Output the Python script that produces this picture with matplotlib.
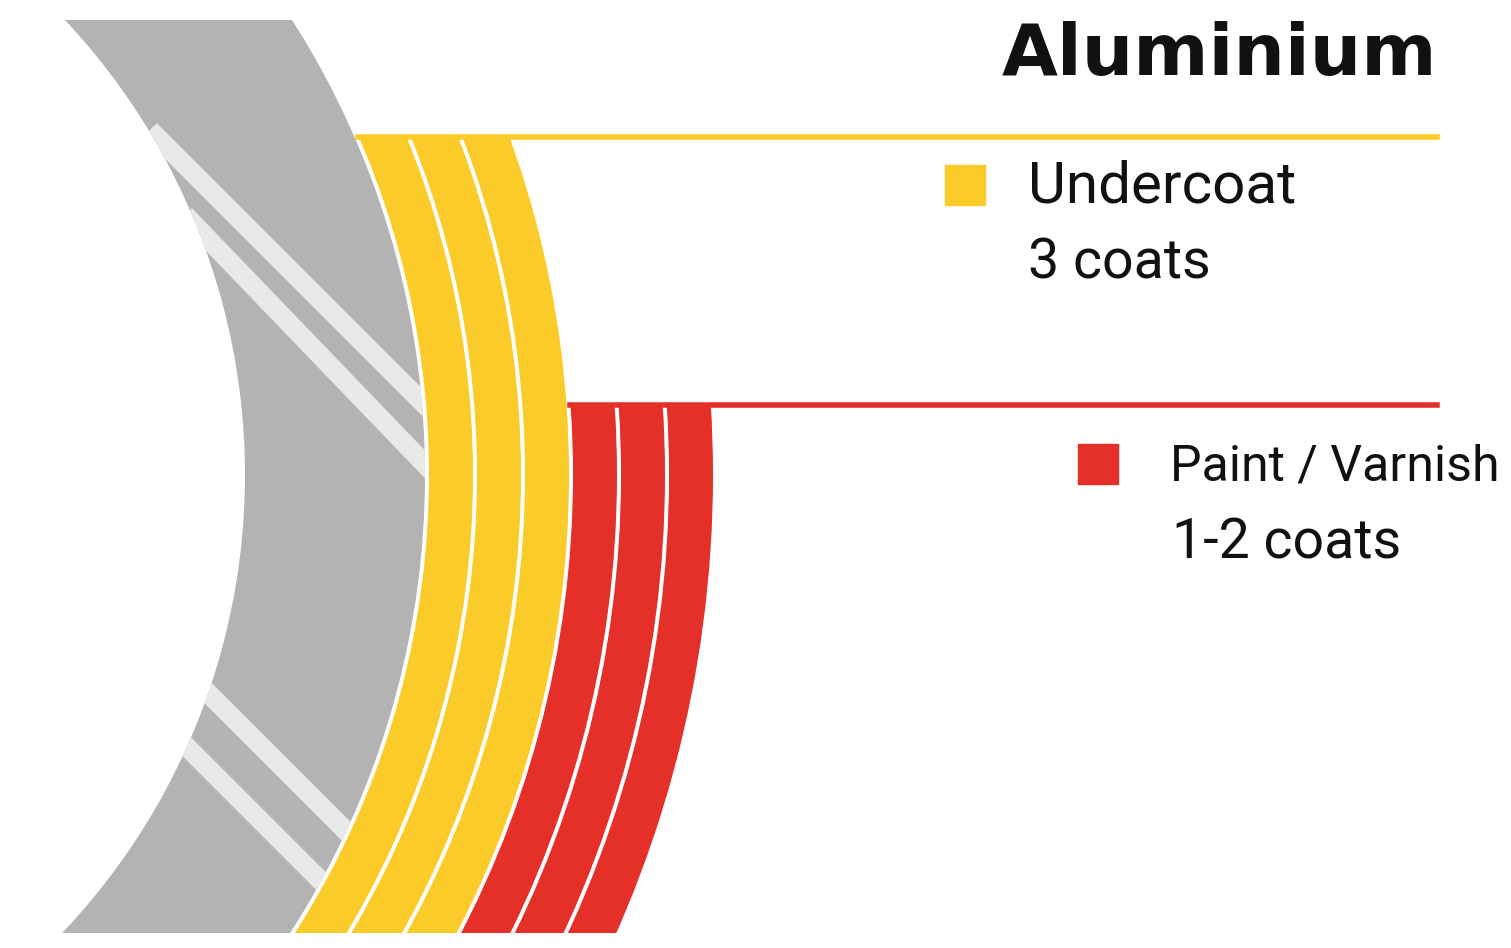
import matplotlib
matplotlib.use("Agg")
import matplotlib.pyplot as plt
import matplotlib.patches as mpatches

# Data
title = "Aluminium"
layer_names = ["Undercoat", "Paint / Varnish"]
layer_coats_text = ["3 coats", "1-2 coats"]
layer_rings = [3, 3]                  # rings drawn per layer
layer_colors = ["#fbcb2a", "#e5302a"]
layer_top = [137, 405]                # y where each layer starts
substrate_color = "#b3b3b3"
stripe_color = "#e9e9e9"

W, H = 1511, 948
fig = plt.figure(figsize=(W / 100, H / 100), dpi=100)
ax = fig.add_axes([0, 0, 1, 1])
ax.set_xlim(0, W)
ax.set_ylim(H, 0)
ax.axis("off")

cx, cy = -420, 475
y_top, y_bot = 20, 933
gap = 4


def ring(r_in, r_out, color, top, z=2):
    w = mpatches.Wedge((cx, cy), r_out, -60, 60, width=r_out - r_in,
                       facecolor=color, edgecolor="none", zorder=z)
    ax.add_patch(w)
    clip = mpatches.Rectangle((0, top), W, y_bot - top, transform=ax.transData)
    w.set_clip_path(clip)
    return w


# substrate
r_gray_in, r_gray_out = 665, 845
sub = ring(r_gray_in, r_gray_out, substrate_color, y_top)

# light stripes in the substrate
stripes = [((150, 130), (440, 420)), ((185, 215), (440, 480)),
           ((190, 675), (360, 845)), ((175, 735), (345, 905))]
for (x0, y0), (x1, y1) in stripes:
    ln, = ax.plot([x0, x1], [y0, y1], color=stripe_color, lw=14,
                  solid_capstyle="butt", zorder=3)
    ln.set_clip_path(sub.get_path(), sub.get_transform())
    ln.set_clip_path(mpatches.Wedge((cx, cy), r_gray_out, -60, 60,
                                    width=r_gray_out - r_gray_in,
                                    transform=ax.transData))

# coating layers
r = r_gray_out + gap
ring_w = 44
for n, col, top in zip(layer_rings, layer_colors, layer_top):
    for i in range(n):
        ring(r, r + ring_w, col, top)
        r += ring_w + gap

# horizontal rule lines
ax.plot([358, 1437], [layer_top[0], layer_top[0]], color=layer_colors[0], lw=4, zorder=4)
ax.plot([570, 1437], [layer_top[1], layer_top[1]], color=layer_colors[1], lw=4, zorder=4)

# title
ax.text(1437, 55, title, ha="right", va="center", fontsize=52,
        fontweight="bold", family="DejaVu Sans", color="#111111")

# legend
ax.add_patch(mpatches.Rectangle((945, 165), 40, 40, color=layer_colors[0]))
ax.text(1028, 187, layer_names[0], ha="left", va="center", fontsize=42, family="Roboto", color="#111111")
ax.text(1028, 263, layer_coats_text[0], ha="left", va="center", fontsize=40, family="Roboto", color="#111111")
ax.add_patch(mpatches.Rectangle((1078, 444), 40, 40, color=layer_colors[1]))
ax.text(1170, 466, layer_names[1], ha="left", va="center", fontsize=36, family="Roboto", color="#111111")
ax.text(1172, 543, layer_coats_text[1], ha="left", va="center", fontsize=40, family="Roboto", color="#111111")

fig.savefig("out.png", dpi=100, facecolor="white")
